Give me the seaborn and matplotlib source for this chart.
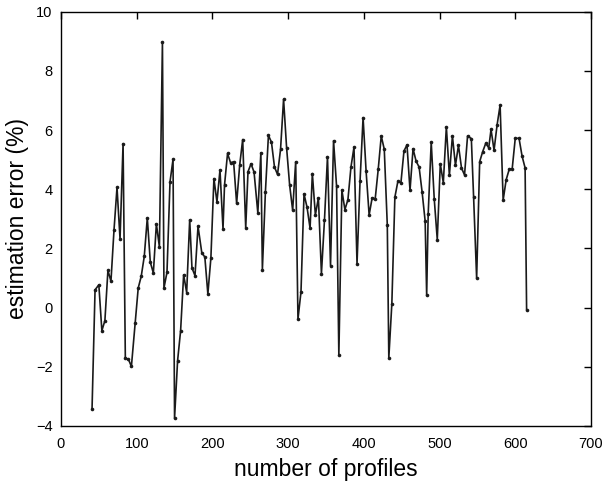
import numpy as np
import pandas as pd
import matplotlib
matplotlib.use("Agg")
import matplotlib.pyplot as plt
import seaborn as sns

# ============================================
# DATA
# ============================================
n_profiles = [
    41, 45, 50, 54, 58, 62, 66, 70, 74, 78,
    82, 85, 89, 93, 98, 102, 106, 110, 114, 118,
    122, 126, 130, 134, 136, 140, 144, 148, 150, 154,
    158, 162, 166, 170, 173, 177, 181, 186, 190, 194,
    198, 202, 206, 210, 214, 216, 220, 224, 228, 232,
    236, 240, 244, 247, 251, 255, 260, 264, 266, 270,
    274, 278, 282, 286, 290, 294, 298, 302, 306, 310,
    313, 317, 321, 325, 329, 332, 336, 340, 344, 348,
    352, 356, 360, 364, 367, 371, 375, 379, 383, 387,
    391, 395, 399, 403, 407, 411, 415, 419, 423, 427,
    431, 433, 437, 441, 445, 449, 453, 457, 461, 465,
    469, 473, 477, 481, 483, 485, 489, 493, 497, 501,
    505, 509, 513, 517, 521, 525, 529, 533, 537, 542,
    545, 549, 553, 557, 561, 565, 568, 572, 576, 580,
    584, 588, 592, 596, 600, 605, 609, 613, 615,
]

est_error = [
    -3.44, 0.60, 0.77, -0.78, -0.44, 1.26, 0.89, 2.61, 4.06, 2.32,
    5.54, -1.71, -1.74, -1.99, -0.52, 0.66, 1.06, 1.73, 3.03, 1.53,
    1.17, 2.83, 2.05, 8.98, 0.66, 1.19, 4.25, 5.01, -3.74, -1.80,
    -0.78, 1.11, 0.51, 2.97, 1.34, 1.08, 2.75, 1.85, 1.71, 0.46,
    1.68, 4.36, 3.57, 4.65, 2.66, 4.14, 5.21, 4.89, 4.93, 3.52,
    4.81, 5.68, 2.69, 4.59, 4.86, 4.58, 3.20, 5.23, 1.28, 3.91,
    5.82, 5.59, 4.75, 4.50, 5.35, 7.04, 5.40, 4.14, 3.29, 4.93,
    -0.39, 0.53, 3.84, 3.39, 2.68, 4.53, 3.13, 3.71, 1.15, 2.95,
    5.10, 1.42, 5.64, 4.10, -1.61, 3.97, 3.31, 3.65, 4.75, 5.42,
    1.49, 4.27, 6.42, 4.61, 3.13, 3.71, 3.67, 4.67, 5.80, 5.35,
    2.78, -1.70, 0.13, 3.73, 4.27, 4.22, 5.29, 5.50, 3.96, 5.37,
    4.95, 4.75, 3.90, 2.92, 0.41, 3.16, 5.59, 3.67, 2.30, 4.86,
    4.22, 6.11, 4.47, 5.80, 4.81, 5.48, 4.72, 4.48, 5.80, 5.71,
    3.73, 0.99, 4.93, 5.27, 5.55, 5.40, 6.02, 5.32, 6.17, 6.84,
    3.63, 4.32, 4.67, 4.70, 5.72, 5.72, 5.12, 4.72, -0.08,
]

x_ticks = [0, 100, 200, 300, 400, 500, 600, 700]
y_ticks = [-4, -2, 0, 2, 4, 6, 8, 10]

df = pd.DataFrame({"profiles": n_profiles, "error": est_error})

# ============================================
# PLOT
# ============================================
sns.set_style("white")
plt.rcParams['font.family'] = ['Liberation Sans', 'DejaVu Sans']
plt.rcParams['text.color'] = 'black'
plt.rcParams['axes.labelcolor'] = 'black'

fig = plt.figure(figsize=(6.05, 4.86), dpi=100)
ax = fig.add_axes([0.1008, 0.1235, 0.876, 0.8525])

sns.lineplot(data=df, x="profiles", y="error", ax=ax, color="#1a1a1a",
             linewidth=1.2, marker="o", markersize=2.6, markeredgewidth=0,
             sort=False, estimator=None)

ax.set_xlim(0, 700)
ax.set_ylim(-4, 10)
ax.set_xticks(x_ticks)
ax.set_yticks(y_ticks)
ax.tick_params(direction="in", length=5, width=1, top=True, right=True,
               labelsize=10.5, colors="black")
ax.tick_params(axis="x", pad=8)
ax.tick_params(axis="y", pad=6)
for s in ax.spines.values():
    s.set_color("black")
    s.set_linewidth(1.0)

ax.set_xlabel("number of profiles", fontsize=16.5, labelpad=5, color="black")
ax.set_ylabel("estimation error (%)", fontsize=16.5, labelpad=5, color="black")

fig.savefig("out.png", dpi=100)
